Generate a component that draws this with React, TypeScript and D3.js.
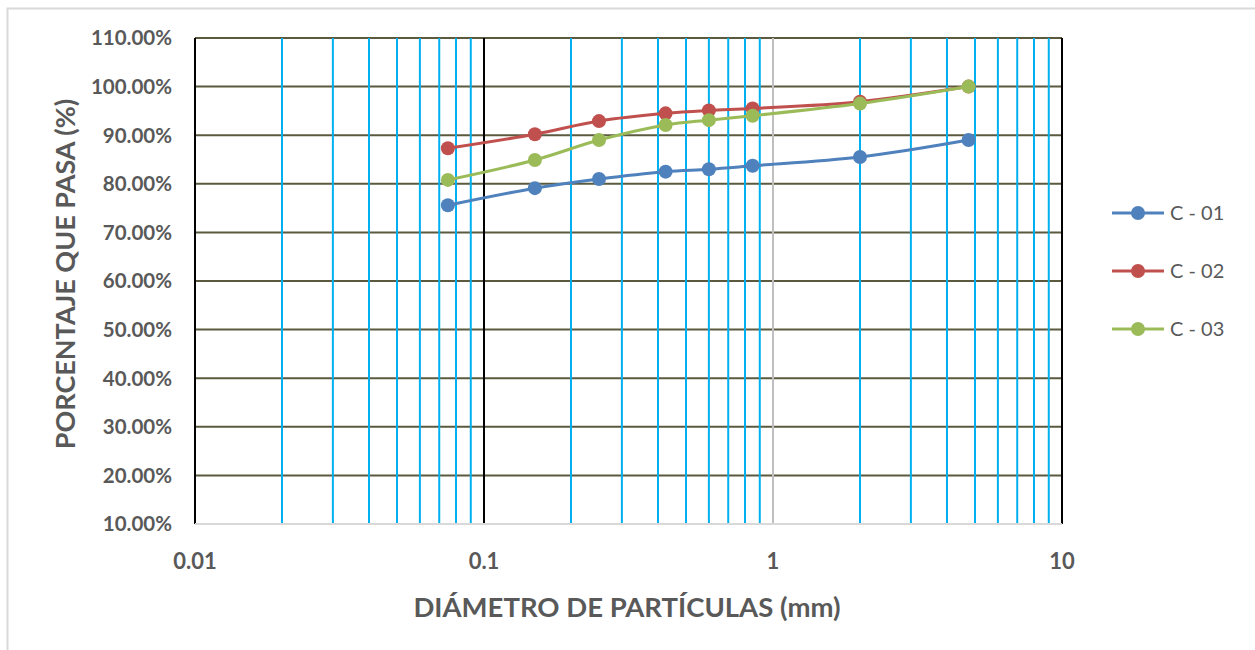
import React from "react";
import * as d3 from "d3";

const sizes = [0.075, 0.15, 0.25, 0.425, 0.6, 0.85, 2.0, 4.75];
const c01 = [75.6, 79.1, 81.0, 82.5, 83.0, 83.7, 85.5, 89.0];
const c02 = [87.3, 90.2, 92.9, 94.5, 95.1, 95.5, 96.9, 100.0];
const c03 = [80.8, 84.9, 89.0, 92.1, 93.1, 94.0, 96.5, 100.0];
const seriesNames = ["C - 01", "C - 02", "C - 03"];
const seriesColors = ["#4f81bd", "#c0504d", "#9bbb59"];
const yTicks = [10, 20, 30, 40, 50, 60, 70, 80, 90, 100, 110];
const xMajor = [0.01, 0.1, 1, 10];
const xTitle = "DIÁMETRO DE PARTÍCULAS (mm)";
const yTitle = "PORCENTAJE QUE PASA (%)";

const FONT = "Lato, 'Open Sans', sans-serif";

export default function App() {
  const left = 195, right = 1062, top = 38, bottom = 524;
  const x = d3.scaleLog().domain([0.01, 10]).range([left, right]);
  const y = d3.scaleLinear().domain([10, 110]).range([bottom, top]);
  const all = [c01, c02, c03];
  const line = d3
    .line<[number, number]>()
    .x((d) => x(d[0]))
    .y((d) => y(d[1]))
    .curve(d3.curveCatmullRom.alpha(0.5));

  const minor: number[] = [];
  [0.01, 0.1, 1].forEach((dec) => {
    for (let k = 2; k <= 9; k++) minor.push(dec * k);
  });

  const majorColor = (v: number) => (v === 1 ? "#bfbfbf" : "#000000");

  return (
    <svg
      width={1255}
      height={650}
      style={{ position: "absolute", left: 0, top: 0, background: "#fff" }}
    >
      <rect x={7.5} y={8.5} width={1400} height={800} fill="#fff" stroke="#d9d9d9" strokeWidth={2} />
      {yTicks.map((t) => (
        <line key={"h" + t} x1={left} x2={right} y1={y(t)} y2={y(t)} stroke="#5b5a3f" strokeWidth={2} />
      ))}
      {minor.map((v, i) => (
        <line key={"m" + i} x1={x(v)} x2={x(v)} y1={top} y2={bottom} stroke="#00b0f0" strokeWidth={2} />
      ))}
      {xMajor.map((v) => (
        <line key={"M" + v} x1={x(v)} x2={x(v)} y1={top} y2={bottom} stroke={majorColor(v)} strokeWidth={2} />
      ))}
      <line x1={left} x2={right} y1={bottom} y2={bottom} stroke="#d9d9d9" strokeWidth={2} />
      {yTicks.map((t) => (
        <text
          key={"yl" + t}
          x={172}
          y={y(t)}
          dy="0.36em"
          textAnchor="end"
          fontFamily={FONT}
          fontWeight="bold"
          fontSize={20.5}
          fill="#595959"
        >
          {t.toFixed(2) + "%"}
        </text>
      ))}
      {xMajor.map((v) => (
        <text
          key={"xl" + v}
          x={x(v)}
          y={569}
          textAnchor="middle"
          fontFamily={FONT}
          fontWeight="bold"
          fontSize={22}
          fill="#595959"
        >
          {String(v)}
        </text>
      ))}
      <text x={627} y={617} textAnchor="middle" fontFamily={FONT} fontWeight="bold" fontSize={27.5} fill="#595959">
        {xTitle}
      </text>
      <text
        transform={`translate(75,274) rotate(-90)`}
        textAnchor="middle"
        fontFamily={FONT}
        fontWeight="bold"
        fontSize={27}
        fill="#595959"
      >
        {yTitle}
      </text>
      {all.map((vals, si) => {
        const pts = sizes.map((s, i) => [s, vals[i]] as [number, number]);
        return (
          <g key={"s" + si}>
            <path d={line(pts) || ""} fill="none" stroke={seriesColors[si]} strokeWidth={3} />
            {pts.map((p, i) => (
              <circle key={i} cx={x(p[0])} cy={y(p[1])} r={7} fill={seriesColors[si]} />
            ))}
          </g>
        );
      })}
      {seriesNames.map((n, i) => {
        const ly = 213 + i * 58;
        return (
          <g key={"lg" + i}>
            <line x1={1112} x2={1164} y1={ly} y2={ly} stroke={seriesColors[i]} strokeWidth={3} />
            <circle cx={1138} cy={ly} r={7} fill={seriesColors[i]} />
            <text x={1170} y={ly} dy="0.36em" fontFamily={FONT} fontSize={20} fill="#595959">
              {n}
            </text>
          </g>
        );
      })}
    </svg>
  );
}
